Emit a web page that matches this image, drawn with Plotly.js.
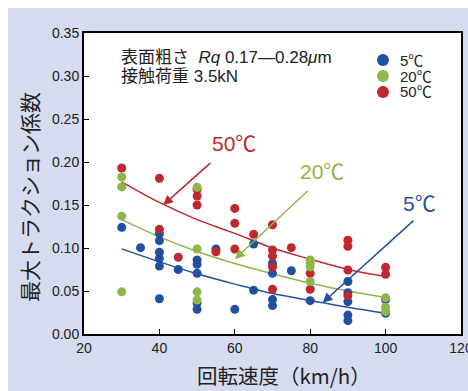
<!DOCTYPE html>
<html>
<head>
<meta charset="utf-8">
<script src="https://cdn.plot.ly/plotly-3.0.1.min.js"></script>
<style>
  html, body { margin: 0; padding: 0; background: #ffffff; width: 468px; height: 391px; overflow: hidden; }
  #chart { position: absolute; left: 8px; top: 8px; width: 460px; height: 383px; }
</style>
</head>
<body>
<div id="chart"></div>
<script>
// ---- Data ----
// 5°C (blue)
const blueX = [30, 35, 40, 40, 40, 40, 40, 40, 45, 50, 50, 50, 50, 50, 55, 60, 65, 65, 70, 70, 70, 70, 75, 80, 90, 90, 90, 90, 90, 100, 100];
const blueY = [0.124, 0.1004, 0.1167, 0.1085, 0.095, 0.088, 0.079, 0.041, 0.075, 0.086, 0.081, 0.0705, 0.036, 0.0287, 0.0988, 0.0287, 0.1047, 0.051, 0.082, 0.0705, 0.040, 0.033, 0.0736, 0.0388, 0.061, 0.048, 0.0376, 0.022, 0.0155, 0.040, 0.024];
// 50°C (red)
const redX = [30, 40, 40, 45, 50, 50, 50, 55, 60, 60, 60, 65, 70, 70, 70, 70, 70, 75, 80, 80, 90, 90, 90, 90, 100, 100];
const redY = [0.193, 0.181, 0.1217, 0.0892, 0.168, 0.1605, 0.150, 0.0957, 0.146, 0.1287, 0.0988, 0.116, 0.127, 0.0977, 0.0907, 0.078, 0.052, 0.1004, 0.0705, 0.052, 0.109, 0.102, 0.0744, 0.0446, 0.0775, 0.0694];
// 20°C (green)
const greenX = [30, 30, 30, 30, 50, 50, 50, 50, 80, 80, 80, 80, 100, 100, 100];
const greenY = [0.1826, 0.171, 0.137, 0.049, 0.1705, 0.0988, 0.049, 0.0395, 0.086, 0.082, 0.078, 0.061, 0.0422, 0.031, 0.026];

// Trend curves
const curveX = [30, 40, 50, 60, 70, 80, 90, 100];
const redCurve = [0.177, 0.153, 0.133, 0.117, 0.100, 0.087, 0.075, 0.067];
const greenCurve = [0.133, 0.113, 0.096, 0.082, 0.070, 0.059, 0.050, 0.0425];
const blueCurve = [0.099, 0.084, 0.070, 0.058, 0.047, 0.039, 0.031, 0.024];

const xTicks = [20, 40, 60, 80, 100, 120];
const yTicks = [0, 0.05, 0.10, 0.15, 0.20, 0.25, 0.30, 0.35];
const seriesNames = ['5℃', '20℃', '50℃'];

const BLUE = '#2250a0', GREEN = '#8db64b', RED = '#c1272e';
const FONT = 'Liberation Sans, Arial, Noto Sans CJK JP, sans-serif';
const JFONT = 'Noto Sans CJK JP, Liberation Sans, sans-serif';

function pts(x, y, c) {
  return { type: 'scatter', mode: 'markers', x: x, y: y, showlegend: false, hoverinfo: 'skip',
           marker: { color: c, size: 9, line: { width: 0 } }, cliponaxis: false };
}
function crv(x, y, c) {
  return { type: 'scatter', mode: 'lines', x: x, y: y, showlegend: false, hoverinfo: 'skip',
           line: { color: c, width: 1.5, shape: 'spline', smoothing: 1 } };
}

const data = [
  crv(curveX, redCurve, RED), crv(curveX, greenCurve, GREEN), crv(curveX, blueCurve, BLUE),
  pts(blueX, blueY, BLUE), pts(redX, redY, RED), pts(greenX, greenY, GREEN)
];

const legColors = [BLUE, GREEN, RED];
const legY = [0.910, 0.857, 0.804];
const shapes = legColors.map((c, i) => ({
  type: 'circle', xref: 'paper', yref: 'paper', xsizemode: 'pixel', ysizemode: 'pixel',
  xanchor: 0.793, yanchor: legY[i], x0: -6, x1: 6, y0: -6, y1: 6,
  fillcolor: c, line: { width: 0 }
}));

const annotations = [
  { xref: 'paper', yref: 'paper', x: 0.0928, y: 0.920, xanchor: 'left', yanchor: 'middle', showarrow: false,
    text: '表面粗さ  <i>Rq</i> 0.17—0.28<i>μ</i>m', font: { family: FONT, size: 17, color: '#222' } },
  { xref: 'paper', yref: 'paper', x: 0.0928, y: 0.857, xanchor: 'left', yanchor: 'middle', showarrow: false,
    text: '接触荷重 3.5kN', font: { family: FONT, size: 17, color: '#222' } },
  // legend texts
  ...seriesNames.map((n, i) => ({ xref: 'paper', yref: 'paper', x: 0.833, y: legY[i], xanchor: 'left', yanchor: 'middle',
    showarrow: false, text: n, font: { family: FONT, size: 15, color: '#222' } })),
  // callout labels
  { x: 59.8, y: 0.221, showarrow: false, text: '50℃', font: { family: FONT, size: 21, color: RED } },
  { x: 83.1, y: 0.1895, showarrow: false, text: '20℃', font: { family: FONT, size: 21, color: GREEN } },
  { x: 109.1, y: 0.152, showarrow: false, text: '5℃', font: { family: FONT, size: 21, color: BLUE } },
  // arrows
  { x: 41.0, y: 0.150, ax: 53.9, ay: 0.2003, axref: 'x', ayref: 'y', showarrow: true, text: '',
    arrowhead: 2, arrowsize: 1.3, arrowwidth: 1.5, arrowcolor: RED },
  { x: 60.05, y: 0.0872, ax: 79.7, ay: 0.168, axref: 'x', ayref: 'y', showarrow: true, text: '',
    arrowhead: 2, arrowsize: 1.3, arrowwidth: 1.5, arrowcolor: GREEN },
  { x: 83.3, y: 0.0364, ax: 107.8, ay: 0.1334, axref: 'x', ayref: 'y', showarrow: true, text: '',
    arrowhead: 2, arrowsize: 1.3, arrowwidth: 1.5, arrowcolor: BLUE },
  // axis titles
  { xref: 'paper', yref: 'paper', x: 0.53, y: -0.136, xanchor: 'center', yanchor: 'middle', showarrow: false,
    text: '回転速度（km/h）', font: { family: JFONT, size: 20.5, color: '#222' } },
  { xref: 'paper', yref: 'paper', x: -0.146, y: 0.455, xanchor: 'center', yanchor: 'middle', showarrow: false,
    textangle: -90, text: '最大トラクション係数', font: { family: JFONT, size: 21, color: '#222' } }
];

const layout = {
  width: 460, height: 383,
  margin: { l: 76, r: 7, t: 25, b: 57, pad: 0 },
  paper_bgcolor: '#d5dcef',
  plot_bgcolor: '#ffffff',
  showlegend: false,
  font: { family: FONT, size: 14, color: '#222' },
  xaxis: {
    range: [20, 120], tickvals: xTicks, ticktext: xTicks.map(String),
    ticks: 'inside', ticklen: 5, tickwidth: 1, tickcolor: '#000',
    showline: true, mirror: true, linecolor: '#000', linewidth: 2,
    showgrid: false, zeroline: false, ticklabeloverflow: 'allow',
    tickfont: { family: FONT, size: 14, color: '#222' }
  },
  yaxis: {
    range: [0, 0.35], tickvals: yTicks, ticktext: yTicks.map(v => v.toFixed(2)),
    ticks: 'inside', ticklen: 5, tickwidth: 1, tickcolor: '#000',
    showline: true, mirror: true, linecolor: '#000', linewidth: 2,
    showgrid: false, zeroline: false, tickfont: { family: FONT, size: 14, color: '#222' }
  },
  shapes: shapes,
  annotations: annotations
};

Plotly.newPlot('chart', data, layout, { staticPlot: true, displayModeBar: false });
</script>
</body>
</html>
